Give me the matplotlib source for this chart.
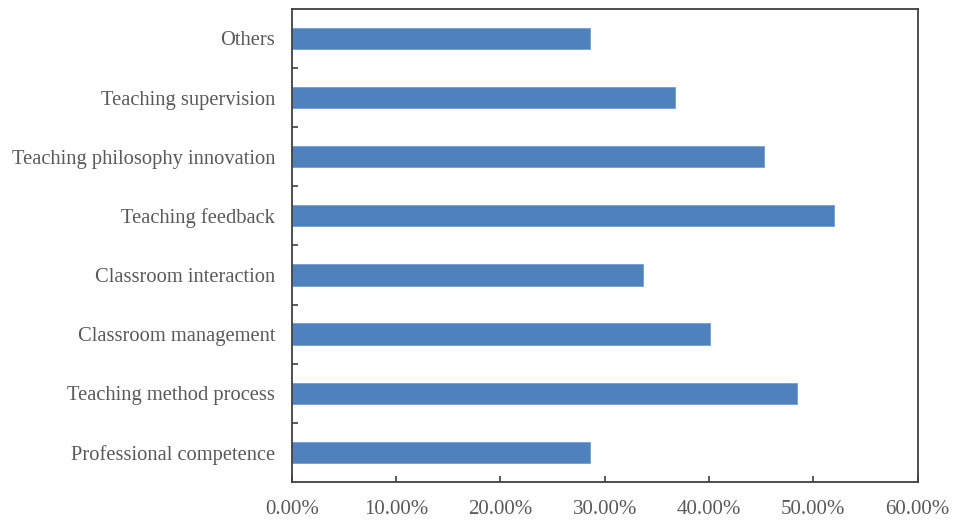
import numpy as np
import matplotlib.pyplot as plt
from matplotlib.ticker import PercentFormatter

# survey items, bottom to top
categories = ["Professional competence", "Teaching method process", "Classroom management",
              "Classroom interaction", "Teaching feedback", "Teaching philosophy innovation",
              "Teaching supervision", "Others"]
shares = [28.58, 48.42, 40.13, 33.63, 52.00, 45.25, 36.79, 28.58]
xticks = [0, 10, 20, 30, 40, 50, 60]

plt.rcParams['font.family'] = ['Liberation Serif', 'DejaVu Serif']

fig = plt.figure(figsize=(9.62, 5.21), dpi=100)
ax = fig.add_axes([0.3033, 0.075, 0.6505, 0.908])

y = np.arange(len(categories))
ax.barh(y, shares, height=0.36, color='#4F81BD', edgecolor='#6F9ED6', linewidth=0.6)

ax.set_xlim(0, 60)
ax.set_ylim(-0.5, len(categories) - 0.5)
ax.set_xticks(xticks)
ax.xaxis.set_major_formatter(PercentFormatter(decimals=2))
ax.set_yticks(y)
ax.set_yticklabels(categories)
# category separators drawn as inward minor ticks
ax.set_yticks(np.arange(0.5, len(categories) - 1, 1), minor=True)

txt = '#595959'
ax.tick_params(axis='y', which='major', length=0, pad=12, labelsize=14.8, labelcolor=txt)
ax.tick_params(axis='y', which='minor', direction='in', length=4, width=1.2, color='#404040')
ax.tick_params(axis='x', direction='in', length=4, width=1.2, color='#404040',
               pad=13, labelsize=15, labelcolor=txt)

for s in ax.spines.values():
    s.set_color('#404040')
    s.set_linewidth(1.3)

fig.savefig('out.png', dpi=100)
